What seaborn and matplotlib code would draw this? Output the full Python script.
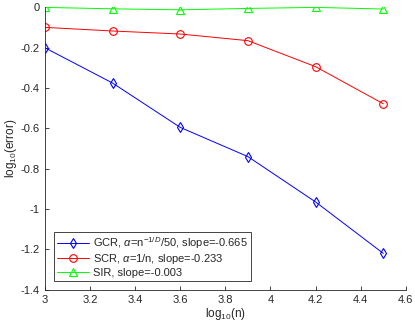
import numpy as np
import pandas as pd
import seaborn as sns
import matplotlib
matplotlib.use('Agg')
import matplotlib.pyplot as plt
from matplotlib.ticker import FuncFormatter

log_n = [3.0, 3.3, 3.6, 3.9, 4.2, 4.5]
gcr = [-0.200, -0.375, -0.595, -0.740, -0.965, -1.220]
scr = [-0.099, -0.117, -0.132, -0.165, -0.294, -0.478]
sir = [0.000, -0.007, -0.012, -0.005, 0.000, -0.008]

labels = [r'GCR, $\alpha$=n$^{-1/D}$/50, slope=-0.665',
          r'SCR, $\alpha$=1/n, slope=-0.233',
          'SIR, slope=-0.003']
colors = ['#0000ff', '#ff0000', '#00ff00']
markers = ['d', 'o', '^']

sns.set_style('white')
plt.rcParams['font.family'] = ['Liberation Sans', 'DejaVu Sans']
plt.rcParams['mathtext.fontset'] = 'custom'
plt.rcParams['mathtext.rm'] = 'Liberation Sans'
plt.rcParams['mathtext.it'] = 'Liberation Sans:italic'
plt.rcParams['axes.unicode_minus'] = False

fig = plt.figure(figsize=(4.15, 3.29), dpi=100)
ax = fig.add_axes([0.108, 0.1195, 0.870, 0.858])

for ys, lab, c, m in zip([gcr, scr, sir], labels, colors, markers):
    df = pd.DataFrame({'x': log_n, 'y': ys})
    sns.lineplot(data=df, x='x', y='y', ax=ax, label=lab, color=c,
                 marker=m, markersize=5.5, mfc='none', mec=c, mew=0.8,
                 linewidth=0.7)


def fmt(v, p):
    return '%g' % (round(v, 2) + 0.0)


ax.set_xlim(3, 4.6)
ax.set_ylim(-1.4, 0)
ax.set_xticks(np.arange(3, 4.61, 0.2))
ax.set_yticks(np.arange(-1.4, 0.01, 0.2))
ax.xaxis.set_major_formatter(FuncFormatter(fmt))
ax.yaxis.set_major_formatter(FuncFormatter(fmt))
ax.tick_params(direction='in', length=3, width=0.6, labelsize=8,
               colors='#262626', left=True, bottom=True)
for s in ['top', 'right']:
    ax.spines[s].set_visible(False)
for s in ['left', 'bottom']:
    ax.spines[s].set_color('#262626')
    ax.spines[s].set_linewidth(0.6)

ax.set_xlabel(r'log$_{10}$(n)', fontsize=8.5, labelpad=1)
ax.set_ylabel(r'log$_{10}$(error)', fontsize=8.5, labelpad=1)

leg = ax.legend(loc='lower left', bbox_to_anchor=(0.025, 0.031), fontsize=8,
                fancybox=False, edgecolor='#262626', framealpha=1,
                handlelength=2.9, handletextpad=0.3, borderpad=0.3,
                labelspacing=0.12, borderaxespad=0)
leg.get_frame().set_linewidth(0.6)

fig.savefig('out.png', dpi=100)
